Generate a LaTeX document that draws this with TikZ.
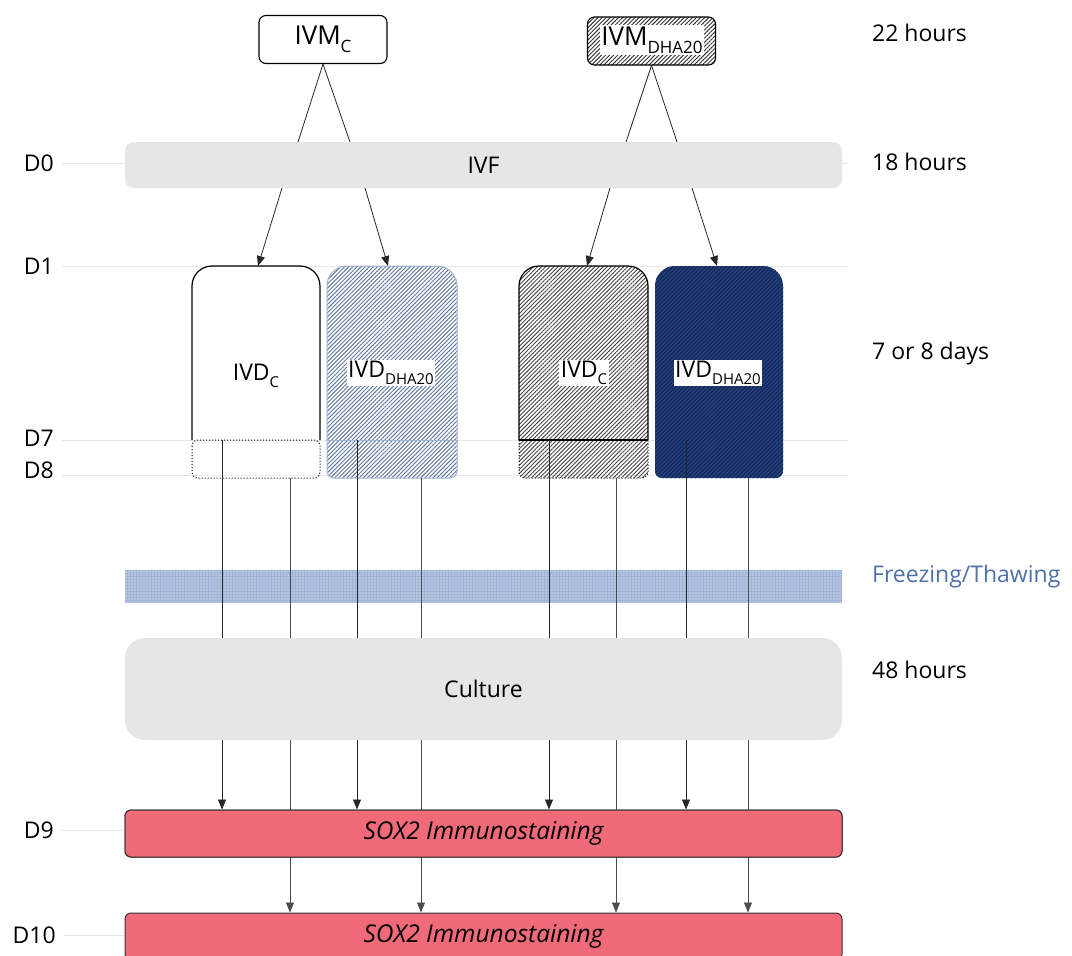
\documentclass[tikz,border=0pt]{standalone}
\usepackage{fontspec}
\setmainfont{Open Sans}
\usetikzlibrary{patterns.meta,arrows.meta}
\definecolor{barGray}{RGB}{230,230,230}
\definecolor{guide}{RGB}{232,232,232}
\definecolor{soxRed}{RGB}{240,106,121}
\definecolor{frzBlue}{RGB}{79,113,170}
\definecolor{frzFill}{RGB}{160,181,216}
\definecolor{navyFill}{RGB}{36,64,124}
\definecolor{navyHatch}{RGB}{16,34,82}
\definecolor{lblue}{RGB}{95,118,160}
\definecolor{lblueEdge}{RGB}{160,180,212}
\newcommand{\lowsub}[1]{\raisebox{-0.32em}{\fontsize{15}{15}\selectfont #1}}
\newcommand{\lowsubb}[1]{\raisebox{-0.32em}{\fontsize{17}{17}\selectfont #1}}
\begin{document}
\begin{tikzpicture}[x=1pt,y=-1pt,
  font=\fontsize{23}{27}\selectfont,
  guideline/.style={draw=guide, line width=0.8pt},
  graybar/.style={fill=barGray, minimum width=717pt, inner sep=0pt},
  soxbar/.style={fill=soxRed, draw=black!80, line width=1pt, rounded corners=6pt,
     minimum width=717pt, minimum height=47pt, inner sep=0pt,
     font=\fontsize{24.5}{28}\selectfont\itshape},
  ivmbox/.style={draw=black, line width=1.1pt, rounded corners=7pt,
     minimum width=128pt, minimum height=48pt, inner sep=0pt,
     font=\fontsize{26}{30}\selectfont},
  link/.style={draw=black!85, line width=0.8pt},
  arr/.style={link, -{Triangle[length=10pt,width=8pt]}},
  longlink/.style={draw=black!70, line width=0.8pt, -{Triangle[length=10pt,width=8pt]}},
  daylbl/.style={anchor=east, inner sep=0pt},
  timelbl/.style={anchor=west, inner sep=0pt},
  hatchlbl/.style={fill=white, inner sep=1.5pt},
  hatchA/.style={pattern={Lines[angle=45,distance=2.9pt,line width=0.95pt]}}
]
\fill[white] (0,0) rectangle (1072,956);
\useasboundingbox (0,0) rectangle (1072,956);

% guide lines
\foreach \yy in {163,266,440,475}{\draw[guideline] (62,\yy) -- (848,\yy);}
\draw[guideline] (60,830) -- (126,830);
\draw[guideline] (64,935) -- (126,935);

% day labels
\node[daylbl] (d0) at (54,163) {D0};
\node[daylbl] (d1) at (54,266) {D1};
\node[daylbl] (d7) at (54,438) {D7};
\node[daylbl] (d8) at (54,470) {D8};
\node[daylbl] (d9) at (54,830) {D9};
\node[daylbl] (d10) at (56,935) {D10};

% time labels
\node[timelbl] (t22) at (872,33) {22 hours};
\node[timelbl] (t18) at (872,162) {18 hours};
\node[timelbl] (t78) at (872,354) {7 or 8 days};
\node[timelbl, text=frzBlue] (tfz) at (872,577) {Freezing/Thawing};
\node[timelbl] (t48) at (872,670) {48 hours};

% IVM boxes
\node[ivmbox, fill=white] (ivmc) at (323,39.5) {IVM\lowsubb{C}};
\node[ivmbox, hatchA, pattern color=black!80] (ivmd) at (651.5,41) {};
\node[hatchlbl, font=\fontsize{26}{30}\selectfont] (ivmdt) at (652,40) {IVM\lowsubb{DHA20}};

% IVM -> IVF lines
\coordinate (u1) at (298,142);
\coordinate (u2) at (350,142);
\coordinate (u3) at (626,142);
\coordinate (u4) at (677,142);
\draw[link] (ivmc.south) -- (u1);
\draw[link] (ivmc.south) -- (u2);
\draw[link] (ivmd.south) -- (u3);
\draw[link] (ivmd.south) -- (u4);

% IVF bar
\node[graybar, rounded corners=9pt, minimum height=46pt] (ivf) at (483.5,165) {IVF};

% IVD boxes
% box 1 (white)
\draw[line width=1.2pt, rounded corners=20pt] (192,440) -- (192,266) -- (320,266) -- (320,440);
\draw[line width=1pt, dotted, rounded corners=6pt] (192,440) -- (192,478) -- (320,478) -- (320,440) -- cycle;
\node (ivd1) at (256,376) {IVD\lowsub{C}};
% box 2 (light blue hatch)
\path[hatchA, pattern color=lblue, draw=lblueEdge, line width=1pt]
  (327,420) [rounded corners=20pt] -- (327,266) -- (457,266) -- (457,420)
  [rounded corners=7pt] -- (457,478) -- (327,478) -- cycle;
\draw[lblueEdge, line width=0.8pt] (327,440) -- (457,440);
\node[hatchlbl] (ivd2) at (391,373) {IVD\lowsub{DHA20}};
% box 3 (gray hatch)
\path[hatchA, pattern color=black!72]
  (519,420) [rounded corners=20pt] -- (519,266) -- (648,266) -- (648,420)
  [rounded corners=7pt] -- (648,478) -- (519,478) -- cycle;
\draw[line width=1.2pt, rounded corners=20pt] (519,440) -- (519,266) -- (648,266) -- (648,440);
\draw[line width=1.2pt] (519,440) -- (648,440);
\draw[line width=1pt, dotted, rounded corners=6pt] (519,440) -- (519,478) -- (648,478) -- (648,440);
\node[hatchlbl] (ivd3) at (584,373) {IVD\lowsub{C}};
% box 4 (navy)
\path[fill=navyFill, rounded corners=20pt]
  (655,420) -- (655,266) -- (783,266) -- (783,420)
  [rounded corners=7pt] -- (783,478) -- (655,478) -- cycle;
\path[hatchA, pattern color=navyHatch]
  (655,420) [rounded corners=20pt] -- (655,266) -- (783,266) -- (783,420)
  [rounded corners=7pt] -- (783,478) -- (655,478) -- cycle;
\node[hatchlbl] (ivd4) at (718,373) {IVD\lowsub{DHA20}};

% IVF -> IVD arrows
\coordinate (a1) at (282,188); \coordinate (b1) at (258,266);
\coordinate (a2) at (365,188); \coordinate (b2) at (388,266);
\coordinate (a3) at (610,188); \coordinate (b3) at (587,266);
\coordinate (a4) at (692,188); \coordinate (b4) at (717,266);
\draw[arr] (a1) -- (b1);
\draw[arr] (a2) -- (b2);
\draw[arr] (a3) -- (b3);
\draw[arr] (a4) -- (b4);

% freezing bar
\fill[frzFill] (125,570) rectangle (842,603);
\fill[pattern={Dots[distance=3pt,radius=0.55pt]}, pattern color=white] (125,570) rectangle (842,603);

% bars below
\node[soxbar] (sox9) at (483.5,833.5) {SOX2 Immunostaining};
\node[soxbar] (sox10) at (483.5,936.5) {SOX2 Immunostaining};

% vertical connectors
\coordinate (s1) at (222,440); \coordinate (s2) at (290,478);
\coordinate (s3) at (357,440); \coordinate (s4) at (421,478);
\coordinate (s5) at (549,440); \coordinate (s6) at (616,478);
\coordinate (s7) at (686,440); \coordinate (s8) at (748,478);
\foreach \s in {s1,s3,s5,s7}{\draw[arr] (\s) -- (\s |- sox9.north);}
\foreach \s in {s2,s4,s6,s8}{\draw[longlink] (\s) -- (\s |- sox10.north);}

% culture bar (covers lines)
\node[graybar, rounded corners=20pt, minimum height=102pt] (cult) at (483.5,689) {Culture};

% redraw sox9 over long lines
\node[soxbar] at (483.5,833.5) {SOX2 Immunostaining};
\end{tikzpicture}
\end{document}
